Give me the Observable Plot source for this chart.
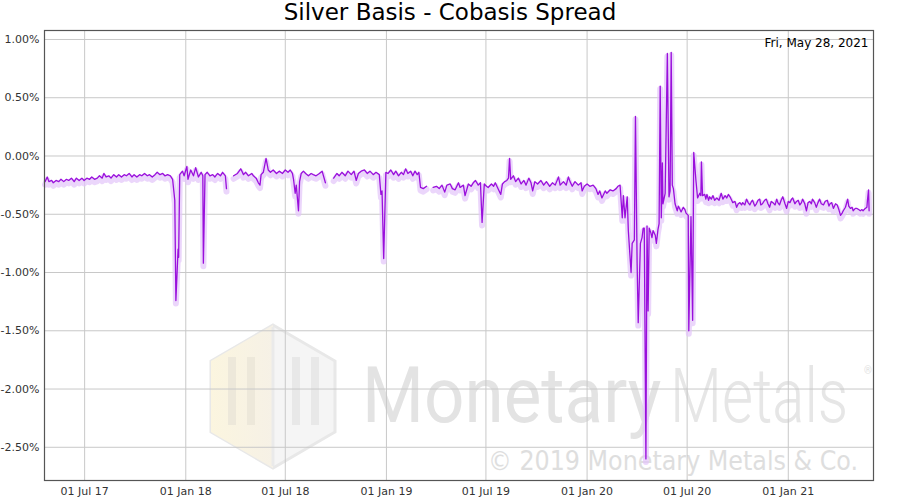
<!DOCTYPE html>
<html><head><meta charset="utf-8">
<script src="https://cdn.jsdelivr.net/npm/d3@7"></script>
<script src="https://cdn.jsdelivr.net/npm/@observablehq/plot@0.6"></script>
<style>
body{margin:0;background:#fff;font-family:"DejaVu Sans",sans-serif;}
#wrap{position:relative;width:900px;height:500px;overflow:hidden;}
#title{position:relative;height:26px;line-height:24px;text-align:center;font-size:23px;color:#000;z-index:2;}
#wm{position:absolute;left:0;top:0;z-index:0;}
#chart{position:relative;z-index:1;}
</style></head>
<body>
<div id="wrap">
<svg id="wm" width="900" height="500">
  <defs>
    <linearGradient id="hexL" x1="0" x2="1"><stop offset="0" stop-color="#fbf5df"/><stop offset="1" stop-color="#f6f1e6"/></linearGradient>
  </defs>
  <polygon points="273,325 335,361 335,432 273,468 211,432 211,361" fill="#f5f5f5" stroke="#e8e8e8" stroke-width="3"/>
  <polygon points="273,325 273,468 211,432 211,361" fill="url(#hexL)"/>
  <line x1="273" y1="327" x2="273" y2="466" stroke="#eaeaea" stroke-width="3"/>
  <rect x="228" y="357" width="8" height="68" fill="#ede8da"/>
  <rect x="247" y="357" width="8" height="68" fill="#ede8da"/>
  <rect x="292" y="357" width="8" height="68" fill="#e8e8e8"/>
  <rect x="311" y="357" width="8" height="68" fill="#e8e8e8"/>
  <text transform="translate(362,422) scale(1,1.1)" x="0" y="0" font-family="Roboto" font-size="71" fill="#e3e3e3">Monetary</text>
  <text transform="translate(670,422) scale(1,1.28)" x="0" y="0" font-family="Roboto" font-weight="300" font-size="60" fill="#e6e6e6">Metals</text>
  <text x="864" y="374" font-family="Roboto" font-size="10" fill="#e2e2e2">®</text>
  <text x="488" y="470" font-family="DejaVu Sans" font-size="26" fill="#dedede" textLength="370" lengthAdjust="spacingAndGlyphs">© 2019 Monetary Metals &amp; Co.</text>
</svg>
<div id="title">Silver Basis - Cobasis Spread</div>
<div id="chart"></div>
</div>
<script>
// Silver basis - cobasis spread (%), null = gap in the record
const spread2017 = [
["2017-04-20",-0.22],["2017-04-24",-0.18],["2017-04-27",-0.22],["2017-05-02",-0.21],["2017-05-05",-0.23],
["2017-05-10",-0.21],["2017-05-15",-0.22],["2017-05-19",-0.20],["2017-05-24",-0.22],["2017-05-29",-0.20],
["2017-06-02",-0.21],["2017-06-07",-0.19],["2017-06-12",-0.22],["2017-06-16",-0.19],["2017-06-21",-0.21],
["2017-06-26",-0.19],["2017-06-30",-0.21],["2017-07-05",-0.19],["2017-07-10",-0.20],["2017-07-14",-0.18],
["2017-07-19",-0.20],["2017-07-24",-0.19],["2017-07-28",-0.17],["2017-08-02",-0.19],["2017-08-05",-0.15],
["2017-08-09",-0.18],["2017-08-14",-0.17],["2017-08-18",-0.19],["2017-08-23",-0.16],["2017-08-28",-0.18],
["2017-09-01",-0.16],["2017-09-06",-0.18],["2017-09-11",-0.16],["2017-09-15",-0.17],["2017-09-20",-0.15],
["2017-09-25",-0.18],["2017-09-29",-0.16],["2017-10-04",-0.18],["2017-10-09",-0.16],["2017-10-13",-0.17],
["2017-10-18",-0.15],["2017-10-23",-0.17],["2017-10-27",-0.16],["2017-11-01",-0.18],["2017-11-06",-0.16],
["2017-11-10",-0.14],["2017-11-15",-0.16],["2017-11-20",-0.15],["2017-11-24",-0.17],["2017-11-29",-0.16],
["2017-12-04",-0.17],["2017-12-08",-0.20],["2017-12-12",-0.38],["2017-12-14",-1.24],["2017-12-18",-0.80],
["2017-12-19",-0.87],["2017-12-21",-0.16],["2017-12-26",-0.13],["2017-12-29",-0.17]
];
const spread2018 = [
["2018-01-03",-0.09],["2018-01-05",-0.20],["2018-01-10",-0.12],["2018-01-15",-0.17],["2018-01-19",-0.10],
["2018-01-24",-0.18],["2018-01-29",-0.14],["2018-02-01",-0.17],["2018-02-02",-0.92],["2018-02-05",-0.16],
["2018-02-09",-0.14],["2018-02-14",-0.17],["2018-02-19",-0.16],["2018-02-23",-0.18],["2018-02-28",-0.15],
["2018-03-05",-0.17],["2018-03-09",-0.14],["2018-03-14",-0.17],["2018-03-16",-0.28],["2018-03-22",null],
["2018-03-29",-0.17],["2018-04-05",-0.15],["2018-04-11",-0.11],["2018-04-16",-0.16],["2018-04-20",-0.14],
["2018-04-25",-0.17],["2018-05-01",-0.15],["2018-05-04",-0.17],["2018-05-09",-0.19],["2018-05-13",-0.23],
["2018-05-16",-0.25],["2018-05-18",-0.16],["2018-05-22",-0.14],["2018-05-27",-0.02],["2018-05-31",-0.12],
["2018-06-04",-0.14],["2018-06-09",-0.12],["2018-06-15",-0.15],["2018-06-20",-0.13],["2018-06-26",-0.15],
["2018-07-01",-0.12],["2018-07-06",-0.14],["2018-07-10",-0.12],["2018-07-14",-0.15],["2018-07-16",-0.20],
["2018-07-19",-0.32],["2018-07-21",-0.25],["2018-07-25",-0.47],["2018-07-27",-0.22],["2018-07-30",-0.15],
["2018-08-03",-0.13],["2018-08-07",-0.15],["2018-08-12",-0.17],["2018-08-17",-0.15],["2018-08-21",-0.16],
["2018-08-26",-0.17],["2018-09-01",-0.15],["2018-09-06",-0.13],["2018-09-12",-0.23],["2018-09-20",null],
["2018-09-27",-0.19],["2018-10-03",-0.15],["2018-10-07",-0.17],["2018-10-12",-0.14],["2018-10-18",-0.17],
["2018-10-23",-0.13],["2018-10-29",-0.16],["2018-11-03",-0.13],["2018-11-07",-0.21],["2018-11-11",-0.15],
["2018-11-16",-0.13],["2018-11-22",-0.12],["2018-11-27",-0.15],["2018-12-02",-0.13],["2018-12-08",-0.16],
["2018-12-13",-0.14],["2018-12-19",-0.16],["2018-12-22",-0.33],["2018-12-24",-0.30],["2018-12-27",-0.88],
["2018-12-31",-0.14]
];
const spread2019 = [
["2019-01-04",-0.15],["2019-01-09",-0.12],["2019-01-14",-0.16],["2019-01-18",-0.13],["2019-01-23",-0.17],
["2019-01-28",-0.14],["2019-02-01",-0.16],["2019-02-05",-0.11],["2019-02-09",-0.15],["2019-02-14",-0.13],
["2019-02-18",-0.17],["2019-02-22",-0.13],["2019-02-26",-0.16],["2019-03-01",-0.14],["2019-03-04",-0.27],
["2019-03-09",-0.28],["2019-03-15",-0.26],["2019-03-21",null],
["2019-03-27",-0.27],["2019-04-02",-0.26],["2019-04-07",-0.28],["2019-04-12",-0.25],["2019-04-17",-0.31],
["2019-04-21",-0.25],["2019-04-27",-0.24],["2019-05-01",-0.28],["2019-05-06",-0.29],["2019-05-12",-0.23],
["2019-05-15",-0.27],["2019-05-21",-0.25],["2019-05-24",-0.34],["2019-05-30",-0.24],["2019-06-04",-0.26],
["2019-06-08",-0.23],["2019-06-12",-0.21],["2019-06-17",-0.25],["2019-06-21",-0.23],["2019-06-24",-0.57],
["2019-06-28",-0.24],["2019-07-02",-0.26],["2019-07-05",-0.27],["2019-07-11",-0.24],["2019-07-15",-0.26],
["2019-07-18",-0.23],["2019-07-22",-0.27],["2019-07-28",-0.33],["2019-07-31",-0.24],["2019-08-04",-0.22],
["2019-08-08",-0.21],["2019-08-11",-0.19],["2019-08-13",-0.02],["2019-08-15",-0.20],["2019-08-20",-0.17],
["2019-08-24",-0.22],["2019-08-29",-0.19],["2019-09-03",-0.24],["2019-09-08",-0.21],["2019-09-12",-0.25],
["2019-09-17",-0.19],["2019-09-21",-0.23],["2019-09-24",-0.30],["2019-09-28",-0.22],["2019-10-03",-0.24],
["2019-10-09",-0.21],["2019-10-14",-0.25],["2019-10-19",-0.22],["2019-10-25",-0.26],["2019-10-30",-0.23],
["2019-11-04",-0.25],["2019-11-10",-0.18],["2019-11-13",-0.25],["2019-11-19",-0.22],["2019-11-24",-0.25],
["2019-11-28",-0.18],["2019-12-01",-0.22],["2019-12-05",-0.26],["2019-12-10",-0.22],["2019-12-16",-0.25],
["2019-12-21",-0.23],["2019-12-23",-0.30],["2019-12-27",-0.26]
];
const spread2020 = [
["2020-01-01",-0.24],["2020-01-06",-0.26],["2020-01-12",-0.25],["2020-01-17",-0.28],["2020-01-21",-0.33],
["2020-01-24",-0.30],["2020-01-28",-0.36],["2020-02-03",-0.30],["2020-02-06",-0.32],["2020-02-12",-0.29],
["2020-02-17",-0.30],["2020-02-23",-0.28],["2020-02-26",-0.26],["2020-03-01",-0.25],["2020-03-05",-0.53],
["2020-03-07",-0.34],["2020-03-10",-0.53],["2020-03-14",-0.35],["2020-03-16",-0.64],["2020-03-21",-1.00],
["2020-03-23",-0.75],["2020-03-27",-0.72],["2020-03-29",0.34],["2020-04-01",-0.92],["2020-04-03",-1.43],
["2020-04-07",-0.75],["2020-04-10",-0.70],["2020-04-12",-0.62],["2020-04-14",-0.62],["2020-04-17",-2.60],
["2020-04-19",-0.60],["2020-04-21",-1.33],["2020-04-23",-0.62],["2020-04-26",-0.66],["2020-04-28",-0.70],
["2020-04-30",-0.64],["2020-05-04",-0.68],["2020-05-06",-0.75],["2020-05-09",-0.63],["2020-05-11",-0.58],
["2020-05-13",0.60],["2020-05-15",-0.53],["2020-05-17",-0.06],["2020-05-18",-0.41],["2020-05-22",-0.32],
["2020-05-26",0.88],["2020-05-29",-0.35],["2020-05-31",-0.30],["2020-06-02",0.89],["2020-06-04",-0.25],
["2020-06-06",-0.28],["2020-06-09",-0.41],["2020-06-13",-0.47],["2020-06-15",-0.43],["2020-06-18",-0.46],
["2020-06-20",-0.48],["2020-06-24",-0.44],["2020-06-27",-0.46],["2020-06-29",-0.49],["2020-07-03",-0.51],
["2020-07-04",-1.50],["2020-07-08",-0.52],["2020-07-11",-1.41],["2020-07-13",0.03],["2020-07-17",-0.21],
["2020-07-20",-0.36],["2020-07-24",-0.32],["2020-07-26",-0.34],["2020-07-27",-0.05],["2020-07-29",-0.34],
["2020-08-02",-0.33],["2020-08-04",-0.37],["2020-08-06",-0.33],["2020-08-09",-0.38],["2020-08-11",-0.35],
["2020-08-14",-0.37],["2020-08-17",-0.34],["2020-08-20",-0.38],["2020-08-24",-0.36],["2020-08-28",-0.38],
["2020-09-01",-0.32],["2020-09-04",-0.37],["2020-09-08",-0.34],["2020-09-11",-0.36],["2020-09-14",-0.33],
["2020-09-17",-0.35],["2020-09-20",-0.38],["2020-09-22",-0.40],["2020-09-26",-0.39],["2020-09-29",-0.44],
["2020-10-02",-0.41],["2020-10-05",-0.40],["2020-10-08",-0.42],["2020-10-10",-0.40],["2020-10-14",-0.42],
["2020-10-17",-0.37],["2020-10-20",-0.40],["2020-10-23",-0.42],["2020-10-26",-0.39],["2020-10-28",-0.38],
["2020-11-01",-0.43],["2020-11-04",-0.41],["2020-11-07",-0.38],["2020-11-10",-0.37],["2020-11-12",-0.42],
["2020-11-15",-0.41],["2020-11-19",-0.38],["2020-11-22",-0.37],["2020-11-25",-0.41],["2020-11-28",-0.44],
["2020-12-01",-0.39],["2020-12-04",-0.40],["2020-12-08",-0.42],["2020-12-11",-0.37],["2020-12-13",-0.40],
["2020-12-16",-0.42],["2020-12-19",-0.38],["2020-12-22",-0.35],["2020-12-26",-0.41],["2020-12-29",-0.45]
];
const spread2021 = [
["2021-01-01",-0.39],["2021-01-04",-0.40],["2021-01-07",-0.37],["2021-01-09",-0.36],["2021-01-13",-0.41],
["2021-01-16",-0.39],["2021-01-19",-0.38],["2021-01-22",-0.42],["2021-01-25",-0.40],["2021-01-27",-0.37],
["2021-01-31",-0.41],["2021-02-03",-0.47],["2021-02-06",-0.40],["2021-02-09",-0.39],["2021-02-12",-0.41],
["2021-02-14",-0.37],["2021-02-18",-0.40],["2021-02-21",-0.44],["2021-02-24",-0.40],["2021-02-27",-0.37],
["2021-03-02",-0.41],["2021-03-06",-0.42],["2021-03-09",-0.39],["2021-03-13",-0.38],["2021-03-16",-0.43],
["2021-03-18",-0.41],["2021-03-21",-0.40],["2021-03-24",-0.45],["2021-03-28",-0.41],["2021-03-31",-0.42],
["2021-04-03",-0.46],["2021-04-06",-0.51],["2021-04-09",-0.49],["2021-04-11",-0.47],["2021-04-15",-0.44],
["2021-04-19",-0.37],["2021-04-21",-0.43],["2021-04-24",-0.45],["2021-04-27",-0.44],["2021-04-29",-0.47],
["2021-05-03",-0.45],["2021-05-06",-0.45],["2021-05-09",-0.46],["2021-05-12",-0.47],["2021-05-15",-0.46],
["2021-05-17",-0.47],["2021-05-21",-0.45],["2021-05-24",-0.44],["2021-05-25",-0.38],["2021-05-27",-0.29],
["2021-05-28",-0.47]
];
const yTicks = [-2.5, -2, -1.5, -1, -0.5, 0, 0.5, 1];
const xTicks = ["2017-07-01","2018-01-01","2018-07-01","2019-01-01","2019-07-01","2020-01-01","2020-07-01","2021-01-01"];
const xDomain = ["2017-04-19","2021-06-05"];
const yDomain = [-2.785, 1.077];
const dateLabel = "Fri, May 28, 2021";

const parse = d3.utcParse("%Y-%m-%d");
const data = [...spread2017, ...spread2018, ...spread2019, ...spread2020, ...spread2021]
  .map(([d, v]) => ({date: parse(d), value: v}));

const chart = Plot.plot({
  width: 900,
  height: 474,
  marginTop: 4,
  marginBottom: 20,
  marginLeft: 44,
  marginRight: 27,
  style: {background: "transparent", fontFamily: "DejaVu Sans", fontSize: "11px", color: "#333"},
  x: {type: "utc", domain: xDomain.map(parse), ticks: xTicks.map(parse), tickFormat: d3.utcFormat("%d %b %y"), tickSize: 0, tickPadding: 7, label: null},
  y: {domain: yDomain, ticks: yTicks, tickFormat: d => d.toFixed(2) + "%", tickSize: 0, tickPadding: 5, label: null},
  marks: [
    Plot.gridX(xTicks.map(parse), {stroke: "#c8c8c8", strokeOpacity: 1}),
    Plot.gridY(yTicks, {stroke: "#c8c8c8", strokeOpacity: 1}),
    Plot.line(data, {x: "date", y: "value", stroke: "#e2c4fa", strokeWidth: 6, strokeOpacity: 0.7, dy: 3, curve: "linear"}),
    Plot.line(data, {x: "date", y: "value", stroke: "#9a0fdc", strokeWidth: 1.3, curve: "linear"}),
    Plot.text([dateLabel], {frameAnchor: "top-right", dx: -5, dy: 8, fontSize: 12, fill: "#000", text: d => d}),
    Plot.frame({stroke: "#555", strokeWidth: 1.2})
  ]
});
document.getElementById("chart").appendChild(chart);
</script>
</body></html>
